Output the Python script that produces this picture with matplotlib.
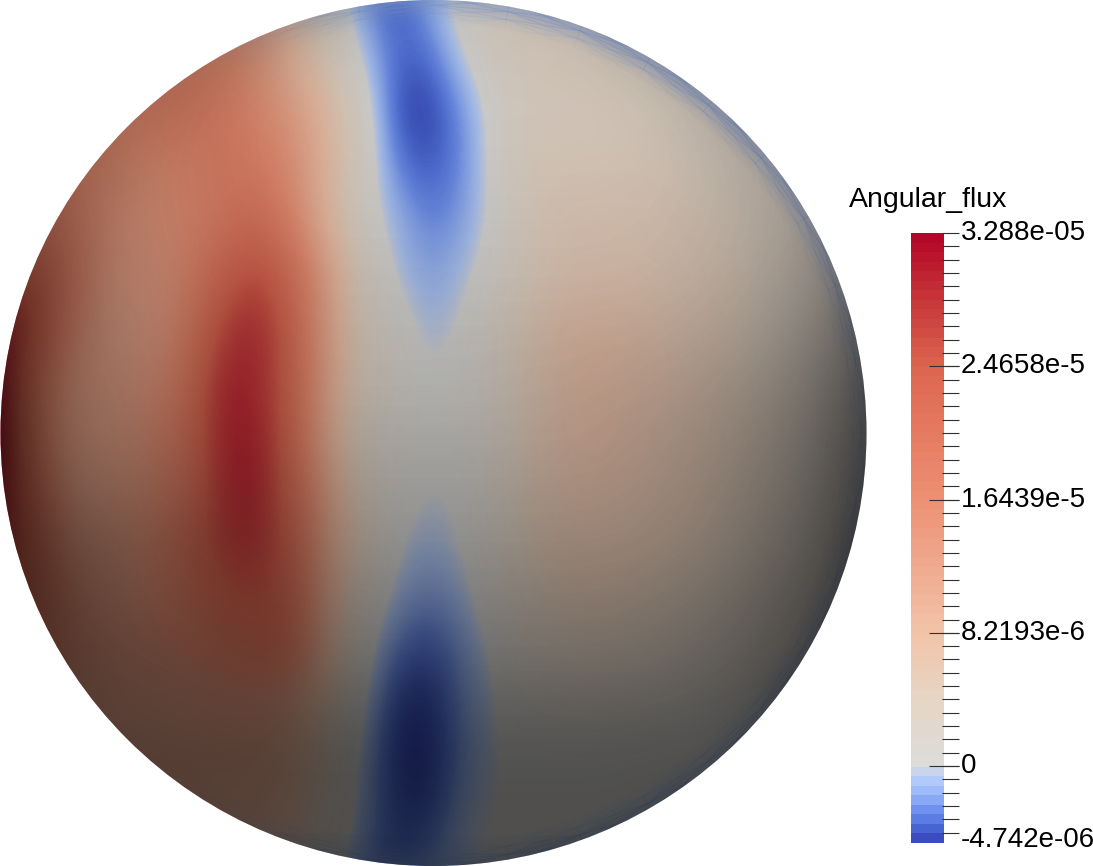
import numpy as np
import matplotlib
matplotlib.use('Agg')
import matplotlib.pyplot as plt
from matplotlib.colors import LinearSegmentedColormap, Normalize
from matplotlib.patches import Circle

plt.rcParams['font.family'] = ['Liberation Sans', 'DejaVu Sans']

title = 'Angular_flux'
flux_min = -4.742
flux_max = 32.88
major_ticks = [24.658, 16.439, 8.2193, 0.0]
major_labels = ['2.4658e-5', '1.6439e-5', '8.2193e-6', '0']
minor_step = 0.82193
min_label = '-4.742e-06'
max_label = '3.288e-05'

# colour bar, flux in 1e-6
bar_values = [-4.742, -4.45, -3.86, -3.26, -2.67, -2.08, -1.48, -0.89, -0.3,
              0.0, 4.0, 8.2, 16.4, 24.6, 28.5, 32.88]
bar_colors = ['#3b4cc0', '#3b4cc0', '#4864d2', '#5c7de6', '#7092f0', '#8aaaf7', '#a0bcfa',
              '#b2cbfc', '#ccd6ec', '#dddddb', '#e6d6c6', '#f3c4aa', '#ee9174',
              '#dd6650', '#c93a3c', '#b40426']

# flux estimated on the sphere, 1e-6, rows every 54 px, columns every 36 px
flux_grid = [
    [14, 14, 14, 14, 14, 14, 14, 14, 8, 3, -2, -4, -1.5, 2, 3, 3, 3, 3, 3, 3, 3, 3, 3, 3, 3],
    [16, 16, 16, 16, 16, 16, 16, 14, 8, 4, -0.3, -3.6, -3.4, 0.5, 3, 3.5, 3.5, 3.5, 3, 3, 3, 3, 3, 3, 3],
    [17, 17, 17, 17, 17, 19, 19, 16, 13, 8, 2, -4.4, -4.7, -2, 2, 3.5, 3.5, 3.5, 3.5, 3, 3, 3, 3, 3, 3],
    [17, 17, 17, 16, 15, 16, 18, 18, 15, 8.5, 2.5, -3.2, -4.1, -2.3, 2, 4, 4, 4, 4, 3.5, 3, 3, 3, 3, 3],
    [18, 18, 17, 14, 14, 15, 18, 21, 17, 8, 1.5, -1.2, -3, -1.8, 1.5, 4.5, 5, 5, 5, 4.5, 4, 3.5, 3, 3, 3],
    [24, 24, 18, 13, 13, 15, 21, 26, 22, 12, 3, -0.5, -1.9, -0.5, 2, 4.5, 5.5, 5.5, 5.5, 5, 4.5, 4, 3, 3, 3],
    [30, 26, 16, 12, 12, 15, 25, 30, 24, 12, 3.5, 1, -0.9, 0.5, 3, 6, 7, 7, 6.5, 5.5, 5, 4, 3, 2.5, 2],
    [32, 20, 13, 12, 13, 17, 29, 30, 24, 12, 4, 1.5, -0.15, 1, 3, 6, 7.5, 7.5, 7, 6, 5, 4, 3.5, 2.5, 2],
    [32.8, 18, 12, 12, 14, 19, 29, 31, 24, 10, 3, 1, 0.5, 1, 3, 6, 7.5, 7.5, 6.5, 6, 5, 4.5, 3.5, 2, 1],
    [32, 20, 12, 12, 14, 18, 28, 31, 24, 12, 4, 1, -0.3, 0.5, 3, 6, 7, 7, 6.5, 6, 5, 4.5, 3.5, 2, 1],
    [30, 22, 13, 13, 14, 20, 27, 29, 25, 12, 4.5, 0, -0.8, 0.3, 3, 5.5, 6.5, 6.5, 6, 5.5, 4.5, 4, 3, 2, 1],
    [25, 23, 15, 13, 14, 18, 24, 26, 24, 11, 3, -0.8, -2, -0.5, 2.5, 5, 5.5, 5.5, 5, 4.5, 4, 3.5, 2.5, 1, 0.5],
    [20, 18, 15, 14, 15, 16, 19, 22, 22, 10, 1.5, -2.8, -3.6, -1.5, 1, 3.5, 4.5, 4.5, 4, 3.5, 3, 2.5, 1.5, 1, 0.5],
    [14, 14, 13, 12, 12, 12, 13, 13, 12, 6, 0.5, -4.3, -4.6, -1.5, 0.5, 1.5, 2, 2, 1.5, 1, 1, 0.5, 0.3, 0.3, 0.3],
    [12, 12, 12, 12, 12, 12, 12, 12, 10, 5, -0.5, -4.6, -4.7, -1.5, 0.3, 0.4, 0.4, 0.4, 0.4, 0.4, 0.4, 0.3, 0.3, 0.3, 0.3],
    [12, 12, 12, 12, 12, 12, 11, 11, 9, 4, -1, -4, -4.2, -0.5, 0.3, 0.3, 0.3, 0.3, 0.3, 0.3, 0.3, 0.3, 0.3, 0.3, 0.3],
    [10, 10, 10, 10, 10, 10, 8, 7, 5, 2, -2, -3.5, -2, 0.1, 0.2, 0.2, 0.2, 0.2, 0.2, 0.2, 0.2, 0.2, 0.2, 0.2, 0.2],
]

# how much the lighting darkens the sphere, rows and columns every 54 px
dark_grid = [
    [.30, .30, .30, .30, .30, .30, .25, .15, .12, .12, .15, .20, .30, .30, .30, .30, .30],
    [.30, .30, .30, .30, .28, .20, .12, .10, .10, .10, .10, .12, .20, .28, .30, .30, .30],
    [.30, .30, .30, .25, .15, .12, .10, .09, .09, .09, .09, .09, .10, .20, .28, .30, .30],
    [.40, .35, .30, .20, .15, .13, .11, .10, .10, .10, .10, .10, .11, .15, .25, .30, .30],
    [.45, .40, .28, .20, .16, .14, .12, .12, .12, .12, .12, .12, .13, .17, .22, .32, .40],
    [.50, .42, .30, .22, .18, .16, .15, .15, .15, .14, .14, .14, .15, .19, .25, .35, .50],
    [.58, .42, .32, .26, .22, .20, .18, .18, .18, .18, .18, .19, .20, .24, .30, .40, .60],
    [.64, .42, .35, .28, .24, .23, .20, .20, .20, .21, .22, .23, .25, .30, .37, .47, .65],
    [.68, .45, .38, .33, .27, .25, .25, .25, .25, .25, .25, .26, .30, .35, .42, .52, .70],
    [.68, .50, .44, .40, .35, .32, .30, .30, .30, .30, .30, .30, .33, .38, .46, .56, .72],
    [.68, .58, .52, .47, .43, .38, .36, .35, .35, .35, .35, .35, .37, .42, .50, .60, .75],
    [.68, .62, .56, .50, .47, .44, .43, .42, .42, .42, .42, .42, .44, .48, .56, .65, .75],
    [.68, .65, .60, .56, .53, .50, .49, .49, .49, .48, .48, .48, .50, .54, .60, .68, .75],
    [.68, .66, .63, .62, .60, .59, .58, .58, .58, .57, .57, .57, .58, .60, .65, .72, .75],
    [.68, .66, .64, .64, .64, .64, .64, .64, .63, .63, .63, .63, .64, .64, .66, .70, .75],
    [.68, .66, .64, .64, .64, .64, .64, .64, .64, .64, .64, .64, .64, .65, .67, .70, .75],
    [.68, .66, .65, .65, .65, .65, .65, .65, .65, .65, .65, .65, .65, .65, .67, .70, .75],
]

# blue tint along the rim, every 10 degrees clockwise from the right
rim_tint = [.30, .30, .35, .40, .45, .50, .60, .60, .60, .55, .40, .20, .10, .05, 0, 0, 0, 0, 0,
            0, 0, 0, 0, 0, .05, .15, .45, .60, .70, .75, .80, .80, .70, .60, .50, .40, .30]
rim_radii = [410, 420, 428, 438]
rim_fade = [0, .25, .6, 1]

pos = [(v - flux_min) / (flux_max - flux_min) for v in bar_values]
flux_cmap = LinearSegmentedColormap.from_list('flux', list(zip(pos, bar_colors)), N=512)
shade = LinearSegmentedColormap.from_list('shade', [(0, 0, 0, 0), (0, 0, 0, 1)], N=256)
rim_cmap = LinearSegmentedColormap.from_list('rim', [(.55, .65, .86, 0), (.55, .65, .86, 1)], N=256)
norm = Normalize(flux_min, flux_max)

fig = plt.figure(figsize=(10.93, 8.66), dpi=100)
ax = fig.add_axes([0, 0, 1, 1])

# sphere
cx, cy = 433.5, 433
flux = np.array(flux_grid, dtype=float)
dark = np.array(dark_grid, dtype=float)
clip = Circle((cx, cy), 433, transform=ax.transData)
im = ax.imshow(flux, cmap=flux_cmap, norm=norm, extent=(-18, 882, 891, -27),
               interpolation='bicubic', aspect='auto', zorder=1)
im.set_clip_path(clip)

angles = np.radians(np.arange(len(rim_tint)) * 10)
rr, tt = np.meshgrid(rim_radii, angles, indexing='ij')
rim = ax.pcolormesh(cx + rr * np.cos(tt), cy + rr * np.sin(tt), np.outer(rim_fade, rim_tint),
                    cmap=rim_cmap, vmin=0, vmax=1, shading='gouraud', zorder=2)
rim.set_clip_path(clip)

im2 = ax.imshow(dark, cmap=shade, vmin=0, vmax=1, extent=(-27, 891, 891, -27),
                interpolation='bicubic', aspect='auto', zorder=3)
im2.set_clip_path(clip)


# colour bar, pixels from the flux value
def bar_y(v):
    return 843 - (v - flux_min) / (flux_max - flux_min) * 610


band = (flux_max - flux_min) / 64
levels = flux_max - band * (np.arange(64) + 0.5)
ax.imshow(levels.reshape(-1, 1), cmap=flux_cmap, norm=norm,
          extent=(911, 944, bar_y(flux_min), bar_y(flux_max)),
          interpolation='nearest', aspect='auto', zorder=3)
ax.set_xlim(0, 1093)
ax.set_ylim(866, 0)
ax.axis('off')

tick_color = '#303030'
n_up = int(np.floor(flux_max / minor_step + 0.01))
n_down = int(np.floor(-flux_min / minor_step))
for i in range(-n_down, n_up + 1):
    y = bar_y(i * minor_step)
    ax.plot([942, 959], [y, y], color=tick_color, lw=0.8, solid_capstyle='butt', zorder=4)
for v, label in zip(major_ticks, major_labels):
    y = bar_y(v)
    ax.plot([929, 959], [y, y], color=tick_color, lw=0.8, solid_capstyle='butt', zorder=4)
    ax.text(961, y, label, fontsize=20, va='center', ha='left', color='black')

ax.text(961, 232.5, max_label, fontsize=20, va='center', ha='left', color='black')
ax.text(961, 840, min_label, fontsize=20, va='center', ha='left', color='black')
ax.text(849, 200, title, fontsize=20.5, va='center', ha='left', color='black')

fig.savefig('out.png', dpi=100)
